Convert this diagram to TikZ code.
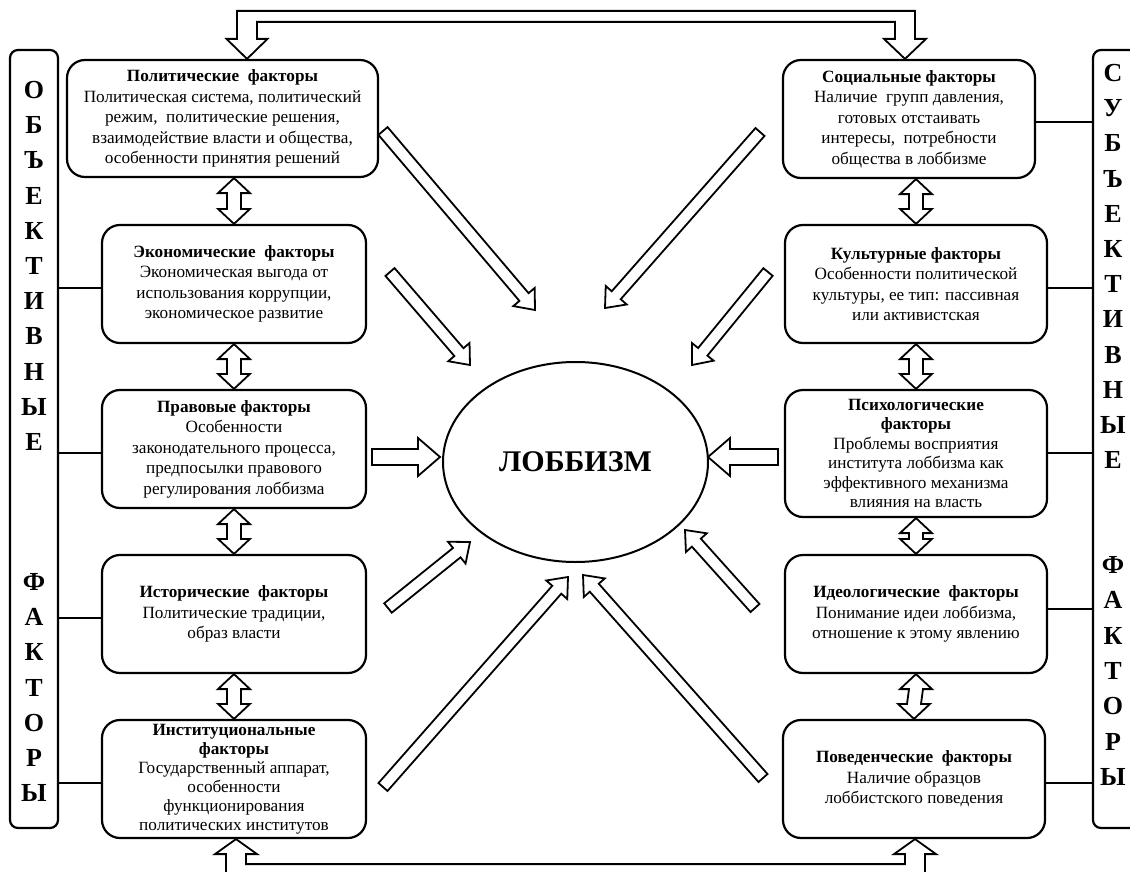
\documentclass[tikz,border=0pt]{standalone}
\usepackage{fontspec}
\setmainfont{Liberation Serif}
\usetikzlibrary{shapes.geometric,calc}

\tikzset{
  fbox/.style={draw, line width=2.2pt, rounded corners=18pt, align=center,
    font=\fontsize{17.2}{20.5}\selectfont, inner sep=1pt},
  bracketbox/.style={draw, line width=2.2pt, rounded corners=8pt, inner sep=0pt},
  letter/.style={font=\fontsize{26}{26}\selectfont\bfseries, inner sep=0pt},
  blk/.style={draw, line width=1.8pt, line join=miter, fill=white},
  link/.style={line width=1.8pt},
}

\newcommand{\barr}[5]{%
  \coordinate (hb) at ($(#2)!#5!(#1)$);
  \draw[blk] ($(#1)!#3!90:(#2)$) -- ($(hb)!#3!90:(#2)$) -- ($(hb)!#4!90:(#2)$) -- (#2)
    -- ($(hb)!#4!-90:(#2)$) -- ($(hb)!#3!-90:(#2)$) -- ($(#1)!#3!-90:(#2)$) -- cycle;}

\newcommand{\dbarr}[2]{%
  \draw[blk] (#1) -- ($(#1)+(16,15)$) -- ($(#1)+(7,15)$) -- ($(#2)+(7,-15)$) -- ($(#2)+(16,-15)$)
    -- (#2) -- ($(#2)+(-16,-15)$) -- ($(#2)+(-7,-15)$) -- ($(#1)+(-7,15)$) -- ($(#1)+(-16,15)$) -- cycle;}

\begin{document}
\begin{tikzpicture}[x=1pt, y=-1pt]
\useasboundingbox (0,0) rectangle (1130,872);
\clip (0,0) rectangle (1130,872);
\fill[white] (0,0) rectangle (1130,872);

% brackets
\node[bracketbox, minimum width=48pt, minimum height=778pt] (brL) at (34,439) {};
\node[bracketbox, minimum width=48pt, minimum height=778pt] (brR) at (1117,439) {};

\foreach \c [count=\i from 0] in {О,Б,Ъ,Е,К,Т,И,В,Н,Ы,Е}
  \node[letter] (lo\i) at (34, 90+35.2*\i) {\c};
\foreach \c [count=\i from 0] in {Ф,А,К,Т,О,Р,Ы}
  \node[letter] (lf\i) at (34, 582+35.2*\i) {\c};
\foreach \c [count=\i from 0] in {С,У,Б,Ъ,Е,К,Т,И,В,Н,Ы,Е}
  \node[letter] (rs\i) at (1113, 73+35.2*\i) {\c};
\foreach \c [count=\i from 0] in {Ф,А,К,Т,О,Р,Ы}
  \node[letter] (rf\i) at (1113, 565+35.3*\i) {\c};

% left boxes
\node[fbox, minimum width=311pt, minimum height=117pt] (pol) at (222.5,118.5)
  {\textbf{Политические\ \ факторы}\\Политическая система, политический\\режим,\ \ политические решения,\\взаимодействие власти и общества,\\особенности принятия решений};
\node[fbox, minimum width=264pt, minimum height=118pt] (eco) at (234,284)
  {\textbf{Экономические\ \ факторы}\\Экономическая выгода от\\использования коррупции,\\экономическое развитие};
\node[fbox, minimum width=264pt, minimum height=118pt] (law) at (234,449)
  {\textbf{Правовые факторы}\\Особенности\\законодательного процесса,\\предпосылки правового\\регулирования лоббизма};
\node[fbox, minimum width=264pt, minimum height=118pt] (hist) at (234,614)
  {\textbf{Исторические\ \ факторы}\\Политические традиции,\\образ власти};
\node[fbox, minimum width=264pt, minimum height=118pt, font=\fontsize{17.2}{19}\selectfont] (inst) at (234,779)
  {\textbf{Институциональные}\\\textbf{факторы}\\Государственный аппарат,\\особенности\\функционирования\\политических институтов};

% right boxes
\node[fbox, minimum width=252pt, minimum height=118pt] (soc) at (909,119)
  {\textbf{Социальные факторы}\\Наличие\ \ групп давления,\\готовых отстаивать\\интересы,\ \ потребности\\общества в лоббизме};
\node[fbox, minimum width=262pt, minimum height=118pt] (cul) at (916,284)
  {\textbf{Культурные факторы}\\Особенности политической\\культуры, ее тип: пассивная\\или активистская};
\node[fbox, minimum width=262pt, minimum height=127pt, font=\fontsize{17.2}{19.5}\selectfont] (psy) at (916,453.5)
  {\textbf{Психологические}\\\textbf{факторы}\\Проблемы восприятия\\института лоббизма как\\эффективного механизма\\влияния на власть};
\node[fbox, minimum width=262pt, minimum height=118pt] (ideo) at (916,614)
  {\textbf{Идеологические\ \ факторы}\\Понимание идеи лоббизма,\\отношение к этому явлению};
\node[fbox, minimum width=262pt, minimum height=118pt] (beh) at (914,779)
  {\textbf{Поведенческие\ \ факторы}\\Наличие образцов\\лоббистского поведения};

% center
\node[ellipse, draw, line width=2pt, minimum width=265pt, minimum height=200pt,
  font=\fontsize{30}{30}\selectfont\bfseries] (lob) at (575.5,462) {ЛОББИЗМ};

% bracket links
\foreach \b in {eco,law,hist,inst}
  \draw[link] ($(\b.west)+(0,4)$) -- (brL.east |- {$(\b.west)+(0,4)$});
\foreach \b/\d in {soc/3,cul/4,psy/-0.5,ideo/-5,beh/4}
  \draw[link] ($(\b.east)+(0,\d)$) -- (brR.west |- {$(\b.east)+(0,\d)$});

% vertical double arrows
\coordinate (v1a) at (eco.north |- pol.south);
\dbarr{v1a}{eco.north}
\dbarr{eco.south}{law.north}
\dbarr{law.south}{hist.north}
\dbarr{hist.south}{inst.north}
\coordinate (v2a) at (cul.north |- soc.south);
\dbarr{v2a}{cul.north}
\dbarr{cul.south}{psy.north}
\dbarr{psy.south}{ideo.north}
\dbarr{ideo.south}{beh.north}

% top pipe
\coordinate (tl) at ($(pol.north)+(24.5,0)$);
\coordinate (tr) at ($(soc.north)+(-4,0)$);
\draw[blk] (tl) -- ($(tl)+(20.5,-20)$) -- ($(tl)+(10,-20)$) -- ($(tl)+(10,-37)$)
  -- ($(tr)+(-10,-37)$) -- ($(tr)+(-10,-20)$) -- ($(tr)+(-21,-20)$) -- (tr)
  -- ($(tr)+(21,-20)$) -- ($(tr)+(10,-20)$) -- ($(tr)+(10,-48)$)
  -- ($(tl)+(-10,-48)$) -- ($(tl)+(-10,-20)$) -- ($(tl)+(-20.5,-20)$) -- cycle;

% bottom pipe
\coordinate (bl) at ($(inst.south)+(2,0)$);
\coordinate (br) at ($(beh.south)+(1,0)$);
\draw[blk] (bl) -- ($(bl)+(21,15)$) -- ($(bl)+(10,15)$) -- ($(bl)+(10,25)$)
  -- ($(br)+(-10,25)$) -- ($(br)+(-10,15)$) -- ($(br)+(-21,15)$) -- (br)
  -- ($(br)+(21,15)$) -- ($(br)+(10,15)$) -- ($(br)+(10,45)$)
  -- ($(bl)+(-10,45)$) -- ($(bl)+(-10,15)$) -- ($(bl)+(-21,15)$) -- cycle;

% block arrows toward center
\coordinate (t1) at (383,131);  \coordinate (p1) at (535,310);
\coordinate (t2) at (390,272);  \coordinate (p2) at (470,365);
\coordinate (t3) at (372,457);  \coordinate (p3) at (440,457);
\coordinate (t4) at (388,608);  \coordinate (p4) at (470,542);
\coordinate (t5) at (383,787);  \coordinate (p5) at (568,577);
\coordinate (t6) at (760,132);  \coordinate (p6) at (605,308);
\coordinate (t7) at (768,272);  \coordinate (p7) at (692,365);
\coordinate (t8) at (778,457);  \coordinate (p8) at (708,457);
\coordinate (t9) at (755,608);  \coordinate (p9) at (685,530);
\coordinate (t10) at (763,778); \coordinate (p10) at (583,575);

\barr{t1}{p1}{6pt}{14pt}{17pt}
\barr{t2}{p2}{6pt}{14pt}{17pt}
\barr{t3}{p3}{8pt}{19pt}{22pt}
\barr{t4}{p4}{6pt}{14pt}{17pt}
\barr{t5}{p5}{6pt}{14pt}{17pt}
\barr{t6}{p6}{6pt}{14pt}{17pt}
\barr{t7}{p7}{6pt}{14pt}{17pt}
\barr{t8}{p8}{8pt}{19pt}{22pt}
\barr{t9}{p9}{6pt}{14pt}{17pt}
\barr{t10}{p10}{6pt}{14pt}{17pt}
\end{tikzpicture}
\end{document}
